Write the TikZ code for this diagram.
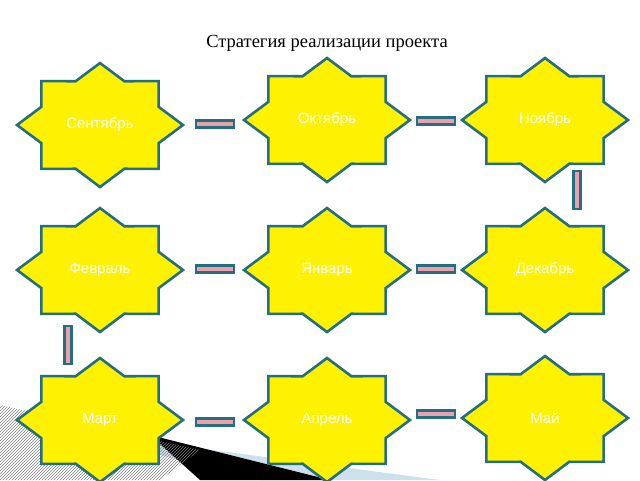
\documentclass[tikz,border=0pt]{standalone}
\usepackage{fontspec}
\setmainfont{Liberation Serif}
\newfontfamily\lsans{Liberation Sans}
\usetikzlibrary{calc,patterns}
\definecolor{tealb}{RGB}{35,110,128}
\definecolor{pinkb}{RGB}{235,160,170}
\definecolor{lblue}{RGB}{205,225,235}
\tikzset{starsty/.style={draw=tealb,line width=2.6pt,fill=yellow,line join=miter},
lbl/.style={font=\lsans\fontsize{15}{17}\selectfont,text=white},
barh/.style={draw=tealb,line width=2.2pt,fill=pinkb,minimum width=38pt,minimum height=7pt,inner sep=0pt},
barv/.style={draw=tealb,line width=2.2pt,fill=pinkb,minimum width=7pt,minimum height=38pt,inner sep=0pt}}
\newcommand\mystar[1]{\draw[starsty] ($(#1)+(0:83pt and 62pt)$) \foreach \a in {0,45,...,315}{ -- ($(#1)+(\a+22.5:63.5pt and 47.4pt)$) -- ($(#1)+(\a+45:83pt and 62pt)$)} -- cycle;}
\begin{document}
\begin{tikzpicture}[x=1pt,y=-1pt]
\useasboundingbox (0,0) rectangle (640,480);
% decorative background
\fill[lblue] (60,430) -- (440,480) -- (260,480) -- cycle;
\fill[black] (150,435) -- (330,480) -- (200,480) -- cycle;
\fill[pattern=north east lines,pattern color=gray] (0,405) -- (200,450) -- (160,480) -- (0,480) -- cycle;
\node[font=\fontsize{18.5}{21}\selectfont] (title) at (327,43) {Стратегия реализации проекта};
\coordinate (c1) at (100,125); \coordinate (c2) at (327,120); \coordinate (c3) at (545,120);
\coordinate (c4) at (100,270); \coordinate (c5) at (327,270); \coordinate (c6) at (545,270);
\coordinate (c7) at (100,420); \coordinate (c8) at (327,420); \coordinate (c9) at (545,418);
\foreach \c in {c1,c2,c3,c4,c5,c6,c7,c8,c9}{\mystar{\c}}
\node[lbl] (sen) at (c1) {Сентябрь};
\node[lbl] (okt) at (c2) {Октябрь};
\node[lbl] (noy) at (c3) {Ноябрь};
\node[lbl] (fev) at (c4) {Февраль};
\node[lbl] (yan) at (c5) {Январь};
\node[lbl] (dek) at (c6) {Декабрь};
\node[lbl] (mar) at (c7) {Март};
\node[lbl] (apr) at (c8) {Апрель};
\node[lbl] (may) at (c9) {Май};
\node[barh] (b1) at (215,124) {};
\node[barh] (b2) at (436,121) {};
\node[barv] (b3) at (577,190) {};
\node[barh] (b4) at (215,269) {};
\node[barh] (b5) at (436,269) {};
\node[barv] (b6) at (68,345) {};
\node[barh] (b7) at (215,422) {};
\node[barh] (b8) at (436,414) {};
\end{tikzpicture}
\end{document}
